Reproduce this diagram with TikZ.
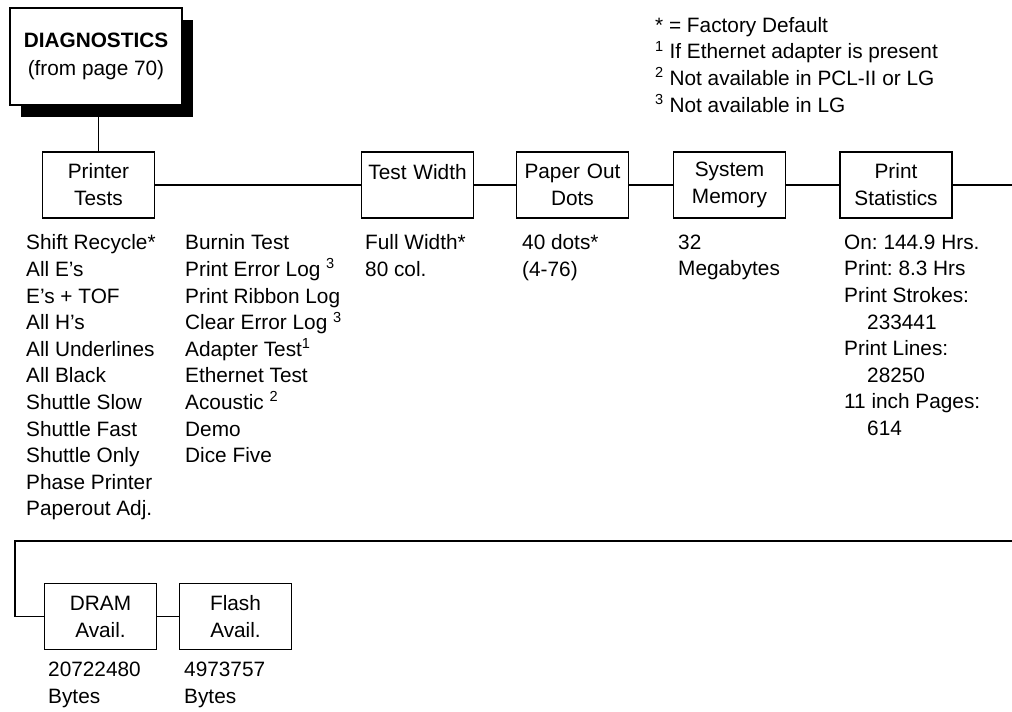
\documentclass[tikz,border=0pt]{standalone}
\usepackage{fontspec}
\setmainfont{Liberation Sans}
\usetikzlibrary{positioning, shadows}
\frenchspacing

\begin{document}
\begin{tikzpicture}[x=1pt,y=-1pt]
    \tikzset{box/.style={draw,line width=1.3pt,minimum width=112pt,minimum height=66pt,text width=106pt,align=center,inner sep=0pt,font=\fontsize{20.8}{27}\selectfont}, top/.style={draw,line width=1.3pt,fill=white,minimum width=172pt,minimum height=97pt,align=center,font=\fontsize{20.8}{28}\selectfont,general shadow={fill=black,shadow xshift=11pt,shadow yshift=-12pt}}, lst/.style={anchor=north west,inner sep=0pt,align=left,font=\fontsize{20.8}{26.6}\selectfont}, ln/.style={line width=1.3pt}}
    \useasboundingbox (0,0) rectangle (1012,712);
    \node[top] (diag) at (96,56.5) {\textbf{DIAGNOSTICS}\\(from page 70)};
    \node[box] (pt) at (98.5,185) {Printer\\Tests};
    \node[box] (tw) at (417.5,185) {Test Width\\\mbox{}};
    \node[box] (pod) at (572.5,185) {Paper Out\\Dots};
    \node[box] (sm) at (729.5,185) {System\\Memory};
    \node[box] (ps) at (896,185) {Print\\Statistics};
    \node[box] (dram) at (100.5,616.5) {DRAM\\Avail.};
    \node[box] (flash) at (235.5,616.5) {Flash\\Avail.};
    \coordinate (rend) at (1012,185); \coordinate (wrapR) at (1012,541); \coordinate (wrapL) at (15,541);
    \draw[ln] (pt.north |- diag.south)--(pt.north); \draw[ln] (pt)--(tw)--(pod)--(sm)--(ps)--(rend); \draw[ln] (wrapR)--(wrapL)|-(dram.west); \draw[ln] (dram)--(flash);
    % option lists
    \node[lst] (ptl) at (26,234.6) {Shift Recycle*\\All E's\\E's + TOF\\All H's\\All Underlines\\All Black\\Shuttle Slow\\Shuttle Fast\\Shuttle Only\\Phase Printer\\Paperout Adj.};
    \node[lst] (ptl2) at (185,234.6) {Burnin Test\\Print Error Log \textsuperscript{3}\\Print Ribbon Log\\Clear Error Log \textsuperscript{3}\\Adapter Test\textsuperscript{1}\\Ethernet Test\\Acoustic \textsuperscript{2}\\Demo\\Dice Five};
    \node[lst] (twl) at (365,234.6) {Full Width*\\80 col.};
    \node[lst] (podl) at (522,234.6) {40 dots*\\(4-76)};
    \node[lst] (sml) at (678,234.6) {32\\Megabytes};
    \node[lst] (psl) at (844,234.6) {On: 144.9 Hrs.\\Print: 8.3 Hrs\\Print Strokes:\\\hspace*{23pt}233441\\Print Lines:\\\hspace*{23pt}28250\\11 inch Pages:\\\hspace*{23pt}614};
    \node[lst] (draml) at (48,662) {20722480\\Bytes};
    \node[lst] (flashl) at (184,662) {4973757\\Bytes};
    \node[lst] (key) at (655,17) {* = Factory Default\\\textsuperscript{1} If Ethernet adapter is present\\\textsuperscript{2} Not available in PCL-II or LG\\\textsuperscript{3} Not available in LG};
  \end{tikzpicture}
\end{document}
